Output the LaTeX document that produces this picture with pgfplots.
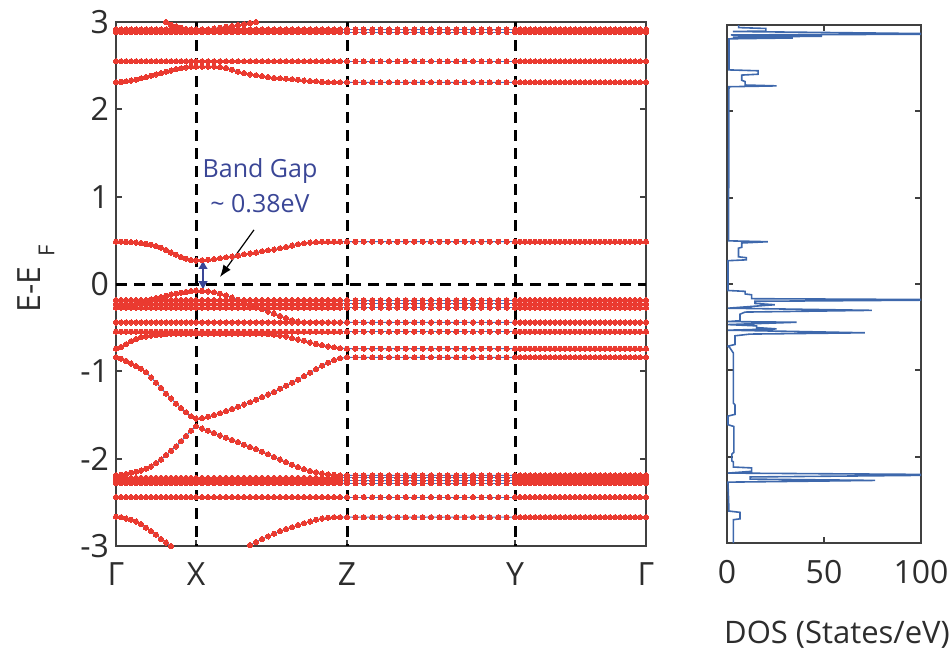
\documentclass[border=0pt]{standalone}
\usepackage{fontspec}
\setmainfont{Open Sans}
\usepackage{pgfplots}
\pgfplotsset{compat=1.18}
\usepackage{pgfplotstable}
\usetikzlibrary{arrows.meta}
\definecolor{bandred}{RGB}{234,58,48}
\definecolor{bandblue}{RGB}{70,110,190}
\definecolor{dosblue}{RGB}{62,104,172}
\definecolor{framegray}{RGB}{64,64,64}
\definecolor{txtgray}{RGB}{45,45,45}
\definecolor{gapblue}{RGB}{58,70,150}

% k (path coordinate) and band energies E-E_F (eV)
\pgfplotstableread{
k t1 t2 t3 t4 c4 c5 v1 v2 v3 vT v4 v5 v6 v7 w1 w2 w3 w4 w5 w6
0 2.915 2.885 2.55 nan 2.31 0.485 -0.185 -0.225 -0.27 -0.27 -0.44 -0.545 -0.74 -0.84 -2.19 -2.22 -2.25 -2.28 -2.44 -2.665
5 2.915 2.885 2.55 nan 2.315 0.485 -0.185 -0.225 -0.27 -0.265 -0.44 -0.545 -0.72 -0.855 -2.185 -2.22 -2.25 -2.28 -2.44 -2.67
10 2.915 2.885 2.55 nan 2.32 0.483 -0.185 -0.225 -0.27 -0.255 -0.44 -0.545 -0.69 -0.88 -2.175 -2.22 -2.25 -2.28 -2.44 -2.685
15 2.915 2.885 2.55 nan 2.33 0.48 -0.185 -0.225 -0.27 -0.24 -0.44 -0.545 -0.655 -0.91 -2.16 -2.22 -2.25 -2.28 -2.44 -2.70
20 2.915 2.885 2.55 nan 2.34 0.475 -0.185 -0.225 -0.27 -0.225 -0.44 -0.545 -0.63 -0.94 -2.15 -2.22 -2.25 -2.28 -2.44 -2.72
25 2.915 2.885 2.55 nan 2.355 0.47 -0.185 -0.225 -0.27 -0.205 -0.44 -0.545 -0.61 -0.97 -2.135 -2.22 -2.25 -2.28 -2.44 -2.75
30 2.915 2.885 2.55 nan 2.37 0.46 -0.185 -0.225 -0.27 -0.19 -0.44 -0.545 -0.60 -1.01 -2.115 -2.22 -2.25 -2.28 -2.44 -2.79
35 2.915 2.885 2.55 nan 2.385 0.45 -0.185 -0.225 -0.27 -0.175 -0.44 -0.545 -0.59 -1.07 -2.09 -2.22 -2.25 -2.28 -2.44 -2.83
40 2.915 2.885 2.55 nan 2.40 0.435 -0.185 -0.225 -0.27 -0.16 -0.44 -0.545 -0.585 -1.13 -2.05 -2.22 -2.25 -2.28 -2.44 -2.87
45 2.915 2.885 2.55 nan 2.415 0.415 -0.185 -0.225 -0.27 -0.15 -0.44 -0.545 -0.58 -1.19 -2.01 -2.22 -2.25 -2.28 -2.44 -2.92
50 2.915 2.885 2.55 3.0 2.43 0.39 -0.185 -0.225 -0.27 -0.135 -0.44 -0.545 -0.575 -1.255 -1.96 -2.22 -2.25 -2.28 -2.44 -2.96
55 2.915 2.885 2.55 2.97 2.445 0.36 -0.185 -0.225 -0.27 -0.12 -0.44 -0.545 -0.57 -1.31 -1.91 -2.22 -2.25 -2.28 -2.44 -3.0
60 2.915 2.885 2.55 2.95 2.46 0.335 -0.185 -0.225 -0.27 -0.11 -0.44 -0.545 -0.57 -1.37 -1.86 -2.22 -2.25 -2.28 -2.44 nan
65 2.915 2.885 2.55 2.935 2.47 0.31 -0.185 -0.225 -0.27 -0.10 -0.44 -0.545 -0.57 -1.42 -1.80 -2.22 -2.25 -2.28 -2.44 nan
70 2.915 2.885 2.55 2.92 2.48 0.29 -0.185 -0.225 -0.27 -0.09 -0.44 -0.545 -0.57 -1.47 -1.74 -2.22 -2.25 -2.28 -2.44 nan
75 2.915 2.885 2.55 2.91 2.49 0.275 -0.185 -0.225 -0.27 -0.08 -0.44 -0.545 -0.57 -1.515 -1.68 -2.22 -2.25 -2.28 -2.44 nan
80 2.915 2.885 2.55 2.905 2.49 0.27 -0.185 -0.225 -0.27 -0.075 -0.44 -0.545 -0.57 -1.54 -1.63 -2.22 -2.25 -2.28 -2.44 nan
86 2.915 2.885 2.55 2.91 2.49 0.272 -0.185 -0.225 -0.27 -0.078 -0.44 -0.545 -0.57 -1.535 -1.655 -2.22 -2.25 -2.28 -2.44 nan
92 2.915 2.885 2.55 2.915 2.49 0.278 -0.185 -0.225 -0.27 -0.085 -0.44 -0.545 -0.57 -1.52 -1.68 -2.22 -2.25 -2.28 -2.44 nan
98 2.915 2.885 2.55 2.925 2.49 0.285 -0.185 -0.225 -0.27 -0.095 -0.44 -0.545 -0.57 -1.50 -1.705 -2.22 -2.25 -2.28 -2.44 nan
104 2.915 2.885 2.55 2.935 2.485 0.295 -0.185 -0.225 -0.27 -0.11 -0.44 -0.545 -0.57 -1.48 -1.735 -2.22 -2.25 -2.28 -2.44 nan
110 2.915 2.885 2.55 2.945 2.475 0.305 -0.185 -0.225 -0.27 -0.13 -0.44 -0.545 -0.57 -1.455 -1.76 -2.22 -2.25 -2.28 -2.44 nan
116 2.915 2.885 2.55 2.955 2.455 0.315 -0.185 -0.225 -0.27 -0.155 -0.44 -0.545 -0.57 -1.43 -1.785 -2.22 -2.25 -2.28 -2.44 nan
122 2.915 2.885 2.55 2.965 2.43 0.325 -0.185 -0.225 -0.27 -0.18 -0.44 -0.545 -0.57 -1.405 -1.81 -2.22 -2.25 -2.28 -2.44 nan
128 2.915 2.885 2.55 2.975 2.415 0.34 -0.185 -0.225 -0.27 -0.21 -0.44 -0.545 -0.57 -1.38 -1.84 -2.22 -2.25 -2.28 -2.44 nan
134 2.915 2.885 2.55 2.99 2.40 0.35 -0.185 -0.225 -0.27 -0.24 -0.44 -0.545 -0.57 -1.355 -1.865 -2.22 -2.25 -2.28 -2.44 -2.99
140 2.915 2.885 2.55 3.0 2.39 0.36 -0.185 -0.225 -0.27 -0.265 -0.44 -0.545 -0.57 -1.325 -1.89 -2.22 -2.25 -2.28 -2.44 -2.955
146 2.915 2.885 2.55 nan 2.38 0.375 -0.185 -0.225 -0.27 -0.29 -0.44 -0.545 -0.57 -1.295 -1.92 -2.22 -2.25 -2.28 -2.44 -2.92
152 2.915 2.885 2.55 nan 2.37 0.385 -0.185 -0.225 -0.27 -0.315 -0.44 -0.545 -0.575 -1.265 -1.95 -2.22 -2.25 -2.28 -2.44 -2.89
158 2.915 2.885 2.55 nan 2.36 0.395 -0.185 -0.225 -0.27 -0.34 -0.44 -0.545 -0.58 -1.235 -1.98 -2.22 -2.25 -2.28 -2.44 -2.86
164 2.915 2.885 2.55 nan 2.355 0.41 -0.185 -0.225 -0.27 -0.365 -0.44 -0.545 -0.59 -1.20 -2.01 -2.22 -2.25 -2.28 -2.44 -2.83
170 2.915 2.885 2.55 nan 2.35 0.425 -0.185 -0.225 -0.27 -0.39 -0.44 -0.545 -0.60 -1.165 -2.04 -2.22 -2.25 -2.28 -2.44 -2.805
176 2.915 2.885 2.55 nan 2.345 0.44 -0.185 -0.225 -0.27 -0.415 -0.44 -0.545 -0.62 -1.13 -2.07 -2.22 -2.25 -2.28 -2.44 -2.785
182 2.915 2.885 2.55 nan 2.34 0.455 -0.185 -0.225 -0.27 -0.43 -0.44 -0.545 -0.635 -1.095 -2.095 -2.22 -2.25 -2.28 -2.44 -2.76
188 2.915 2.885 2.55 nan 2.33 0.465 -0.185 -0.225 -0.27 -0.44 -0.44 -0.545 -0.65 -1.055 -2.12 -2.22 -2.25 -2.28 -2.44 -2.74
194 2.915 2.885 2.55 nan 2.325 0.475 -0.185 -0.225 -0.27 -0.44 -0.44 -0.545 -0.67 -1.015 -2.14 -2.22 -2.25 -2.28 -2.44 -2.72
200 2.915 2.885 2.55 nan 2.32 0.48 -0.185 -0.225 -0.27 -0.44 -0.44 -0.545 -0.685 -0.975 -2.155 -2.22 -2.25 -2.28 -2.44 -2.70
206 2.915 2.885 2.55 nan 2.315 0.485 -0.185 -0.225 -0.27 -0.44 -0.44 -0.545 -0.70 -0.935 -2.17 -2.22 -2.25 -2.28 -2.44 -2.685
212 2.915 2.885 2.55 nan 2.31 0.485 -0.185 -0.225 -0.27 -0.44 -0.44 -0.545 -0.715 -0.90 -2.18 -2.22 -2.25 -2.28 -2.44 -2.675
218 2.915 2.885 2.55 nan 2.31 0.485 -0.185 -0.225 -0.27 -0.44 -0.44 -0.545 -0.725 -0.87 -2.185 -2.22 -2.25 -2.28 -2.44 -2.67
224 2.915 2.885 2.55 nan 2.31 0.485 -0.185 -0.225 -0.27 -0.44 -0.44 -0.545 -0.735 -0.85 -2.19 -2.22 -2.25 -2.28 -2.44 -2.67
231 2.915 2.885 2.55 nan 2.31 0.485 -0.185 -0.225 -0.27 -0.44 -0.44 -0.545 -0.74 -0.84 -2.19 -2.22 -2.25 -2.28 -2.44 -2.67
239.4 2.915 2.885 2.55 nan 2.31 0.485 -0.185 -0.225 -0.27 -0.44 -0.44 -0.545 -0.74 -0.84 -2.19 -2.22 -2.25 -2.28 -2.44 -2.67
247.8 2.915 2.885 2.55 nan 2.31 0.485 -0.185 -0.225 -0.27 -0.44 -0.44 -0.545 -0.74 -0.84 -2.19 -2.22 -2.25 -2.28 -2.44 -2.67
256.2 2.915 2.885 2.55 nan 2.31 0.485 -0.185 -0.225 -0.27 -0.44 -0.44 -0.545 -0.74 -0.84 -2.19 -2.22 -2.25 -2.28 -2.44 -2.67
264.6 2.915 2.885 2.55 nan 2.31 0.485 -0.185 -0.225 -0.27 -0.44 -0.44 -0.545 -0.74 -0.84 -2.19 -2.22 -2.25 -2.28 -2.44 -2.67
273 2.915 2.885 2.55 nan 2.31 0.485 -0.185 -0.225 -0.27 -0.44 -0.44 -0.545 -0.74 -0.84 -2.19 -2.22 -2.25 -2.28 -2.44 -2.67
281.4 2.915 2.885 2.55 nan 2.31 0.485 -0.185 -0.225 -0.27 -0.44 -0.44 -0.545 -0.74 -0.84 -2.19 -2.22 -2.25 -2.28 -2.44 -2.67
289.8 2.915 2.885 2.55 nan 2.31 0.485 -0.185 -0.225 -0.27 -0.44 -0.44 -0.545 -0.74 -0.84 -2.19 -2.22 -2.25 -2.28 -2.44 -2.67
298.2 2.915 2.885 2.55 nan 2.31 0.485 -0.185 -0.225 -0.27 -0.44 -0.44 -0.545 -0.74 -0.84 -2.19 -2.22 -2.25 -2.28 -2.44 -2.67
306.6 2.915 2.885 2.55 nan 2.31 0.485 -0.185 -0.225 -0.27 -0.44 -0.44 -0.545 -0.74 -0.84 -2.19 -2.22 -2.25 -2.28 -2.44 -2.67
315 2.915 2.885 2.55 nan 2.31 0.485 -0.185 -0.225 -0.27 -0.44 -0.44 -0.545 -0.74 -0.84 -2.19 -2.22 -2.25 -2.28 -2.44 -2.67
323.4 2.915 2.885 2.55 nan 2.31 0.485 -0.185 -0.225 -0.27 -0.44 -0.44 -0.545 -0.74 -0.84 -2.19 -2.22 -2.25 -2.28 -2.44 -2.67
331.8 2.915 2.885 2.55 nan 2.31 0.485 -0.185 -0.225 -0.27 -0.44 -0.44 -0.545 -0.74 -0.84 -2.19 -2.22 -2.25 -2.28 -2.44 -2.67
340.2 2.915 2.885 2.55 nan 2.31 0.485 -0.185 -0.225 -0.27 -0.44 -0.44 -0.545 -0.74 -0.84 -2.19 -2.22 -2.25 -2.28 -2.44 -2.67
348.6 2.915 2.885 2.55 nan 2.31 0.485 -0.185 -0.225 -0.27 -0.44 -0.44 -0.545 -0.74 -0.84 -2.19 -2.22 -2.25 -2.28 -2.44 -2.67
357 2.915 2.885 2.55 nan 2.31 0.485 -0.185 -0.225 -0.27 -0.44 -0.44 -0.545 -0.74 -0.84 -2.19 -2.22 -2.25 -2.28 -2.44 -2.67
365.4 2.915 2.885 2.55 nan 2.31 0.485 -0.185 -0.225 -0.27 -0.44 -0.44 -0.545 -0.74 -0.84 -2.19 -2.22 -2.25 -2.28 -2.44 -2.67
373.8 2.915 2.885 2.55 nan 2.31 0.485 -0.185 -0.225 -0.27 -0.44 -0.44 -0.545 -0.74 -0.84 -2.19 -2.22 -2.25 -2.28 -2.44 -2.67
382.2 2.915 2.885 2.55 nan 2.31 0.485 -0.185 -0.225 -0.27 -0.44 -0.44 -0.545 -0.74 -0.84 -2.19 -2.22 -2.25 -2.28 -2.44 -2.67
390.6 2.915 2.885 2.55 nan 2.31 0.485 -0.185 -0.225 -0.27 -0.44 -0.44 -0.545 -0.74 -0.84 -2.19 -2.22 -2.25 -2.28 -2.44 -2.67
399 2.915 2.885 2.55 nan 2.31 0.485 -0.185 -0.225 -0.27 -0.44 -0.44 -0.545 -0.74 -0.84 -2.19 -2.22 -2.25 -2.28 -2.44 -2.67
404 2.915 2.885 2.55 nan 2.31 0.485 -0.185 -0.225 -0.27 -0.44 -0.44 -0.545 -0.74 -0.84 -2.19 -2.22 -2.25 -2.28 -2.44 -2.67
409 2.915 2.885 2.55 nan 2.31 0.485 -0.185 -0.225 -0.27 -0.44 -0.44 -0.545 -0.74 -0.84 -2.19 -2.22 -2.25 -2.28 -2.44 -2.67
414 2.915 2.885 2.55 nan 2.31 0.485 -0.185 -0.225 -0.27 -0.44 -0.44 -0.545 -0.74 -0.84 -2.19 -2.22 -2.25 -2.28 -2.44 -2.67
419 2.915 2.885 2.55 nan 2.31 0.485 -0.185 -0.225 -0.27 -0.44 -0.44 -0.545 -0.74 -0.84 -2.19 -2.22 -2.25 -2.28 -2.44 -2.67
424 2.915 2.885 2.55 nan 2.31 0.485 -0.185 -0.225 -0.27 -0.44 -0.44 -0.545 -0.74 -0.84 -2.19 -2.22 -2.25 -2.28 -2.44 -2.67
429 2.915 2.885 2.55 nan 2.31 0.485 -0.185 -0.225 -0.27 -0.44 -0.44 -0.545 -0.74 -0.84 -2.19 -2.22 -2.25 -2.28 -2.44 -2.67
434 2.915 2.885 2.55 nan 2.31 0.485 -0.185 -0.225 -0.27 -0.44 -0.44 -0.545 -0.74 -0.84 -2.19 -2.22 -2.25 -2.28 -2.44 -2.67
439 2.915 2.885 2.55 nan 2.31 0.485 -0.185 -0.225 -0.27 -0.44 -0.44 -0.545 -0.74 -0.84 -2.19 -2.22 -2.25 -2.28 -2.44 -2.67
444 2.915 2.885 2.55 nan 2.31 0.485 -0.185 -0.225 -0.27 -0.44 -0.44 -0.545 -0.74 -0.84 -2.19 -2.22 -2.25 -2.28 -2.44 -2.67
449 2.915 2.885 2.55 nan 2.31 0.485 -0.185 -0.225 -0.27 -0.44 -0.44 -0.545 -0.74 -0.84 -2.19 -2.22 -2.25 -2.28 -2.44 -2.67
454 2.915 2.885 2.55 nan 2.31 0.485 -0.185 -0.225 -0.27 -0.44 -0.44 -0.545 -0.74 -0.84 -2.19 -2.22 -2.25 -2.28 -2.44 -2.67
459 2.915 2.885 2.55 nan 2.31 0.485 -0.185 -0.225 -0.27 -0.44 -0.44 -0.545 -0.74 -0.84 -2.19 -2.22 -2.25 -2.28 -2.44 -2.67
464 2.915 2.885 2.55 nan 2.31 0.485 -0.185 -0.225 -0.27 -0.44 -0.44 -0.545 -0.74 -0.84 -2.19 -2.22 -2.25 -2.28 -2.44 -2.67
469 2.915 2.885 2.55 nan 2.31 0.485 -0.185 -0.225 -0.27 -0.44 -0.44 -0.545 -0.74 -0.84 -2.19 -2.22 -2.25 -2.28 -2.44 -2.67
474 2.915 2.885 2.55 nan 2.31 0.485 -0.185 -0.225 -0.27 -0.44 -0.44 -0.545 -0.74 -0.84 -2.19 -2.22 -2.25 -2.28 -2.44 -2.67
479 2.915 2.885 2.55 nan 2.31 0.485 -0.185 -0.225 -0.27 -0.44 -0.44 -0.545 -0.74 -0.84 -2.19 -2.22 -2.25 -2.28 -2.44 -2.67
484 2.915 2.885 2.55 nan 2.31 0.485 -0.185 -0.225 -0.27 -0.44 -0.44 -0.545 -0.74 -0.84 -2.19 -2.22 -2.25 -2.28 -2.44 -2.67
489 2.915 2.885 2.55 nan 2.31 0.485 -0.185 -0.225 -0.27 -0.44 -0.44 -0.545 -0.74 -0.84 -2.19 -2.22 -2.25 -2.28 -2.44 -2.67
494 2.915 2.885 2.55 nan 2.31 0.485 -0.185 -0.225 -0.27 -0.44 -0.44 -0.545 -0.74 -0.84 -2.19 -2.22 -2.25 -2.28 -2.44 -2.67
499 2.915 2.885 2.55 nan 2.31 0.485 -0.185 -0.225 -0.27 -0.44 -0.44 -0.545 -0.74 -0.84 -2.19 -2.22 -2.25 -2.28 -2.44 -2.67
504 2.915 2.885 2.55 nan 2.31 0.485 -0.185 -0.225 -0.27 -0.44 -0.44 -0.545 -0.74 -0.84 -2.19 -2.22 -2.25 -2.28 -2.44 -2.67
509 2.915 2.885 2.55 nan 2.31 0.485 -0.185 -0.225 -0.27 -0.44 -0.44 -0.545 -0.74 -0.84 -2.19 -2.22 -2.25 -2.28 -2.44 -2.67
514 2.915 2.885 2.55 nan 2.31 0.485 -0.185 -0.225 -0.27 -0.44 -0.44 -0.545 -0.74 -0.84 -2.19 -2.22 -2.25 -2.28 -2.44 -2.67
519 2.915 2.885 2.55 nan 2.31 0.485 -0.185 -0.225 -0.27 -0.44 -0.44 -0.545 -0.74 -0.84 -2.19 -2.22 -2.25 -2.28 -2.44 -2.67
524 2.915 2.885 2.55 nan 2.31 0.485 -0.185 -0.225 -0.27 -0.44 -0.44 -0.545 -0.74 -0.84 -2.19 -2.22 -2.25 -2.28 -2.44 -2.67
530 2.915 2.885 2.55 nan 2.31 0.485 -0.185 -0.225 -0.27 -0.44 -0.44 -0.545 -0.74 -0.84 -2.19 -2.22 -2.25 -2.28 -2.44 -2.67
}\bands

% density of states: DOS (states/eV) versus E-E_F (eV)
\pgfplotstableread{
dos E
6 3.00
6 2.97
20 2.96
20 2.93
3 2.925
125 2.895
2 2.885
49 2.87
3 2.86
34 2.85
1 2.84
1 2.48
16 2.47
16 2.43
7.6 2.42
7.6 2.36
9.3 2.345
9.3 2.305
25.6 2.295
1 2.285
0.8 0.50
21 0.49
7.6 0.475
7.6 0.425
5.9 0.415
5.9 0.315
10 0.305
10 0.28
0.5 0.27
0.5 -0.075
9.3 -0.085
9.3 -0.115
12.7 -0.125
12.7 -0.17
130 -0.183
14.4 -0.20
14.4 -0.225
24.7 -0.24
0.5 -0.28
74.6 -0.305
9.3 -0.325
6.7 -0.35
6.7 -0.425
0.5 -0.435
35.9 -0.443
0.5 -0.47
15.3 -0.485
15.3 -0.505
25.6 -0.52
0.5 -0.535
71.1 -0.565
11.9 -0.58
4.1 -0.60
4.1 -0.70
0.5 -0.72
1.5 -0.74
3.3 -0.80
3.3 -1.38
4.1 -1.40
4.1 -1.51
0.5 -1.53
0.5 -1.63
3.5 -1.65
3.5 -1.95
2.5 -1.97
2.5 -2.05
3.3 -2.06
3.3 -2.12
12.7 -2.13
12.7 -2.17
0.5 -2.19
130 -2.21
11.9 -2.235
11.9 -2.26
76.3 -2.275
0.5 -2.295
1 -2.63
6.7 -2.645
6.7 -2.72
3.3 -2.73
3.3 -3.00
}\dostable

\begin{document}
\begin{tikzpicture}
\useasboundingbox (0pt,0pt) rectangle (475.5pt,-326pt);
\begin{axis}[
  at={(58pt,-273pt)}, anchor=south west,
  width=265pt, height=262pt, scale only axis,
  xmin=0, xmax=530, ymin=-3, ymax=3,
  xtick={0,80,231,399,530}, xticklabels={Γ,X,Z,Y,Γ},
  ytick={-3,-2,-1,0,1,2,3}, yticklabels={-3,-2,-1,0,1,2,3},
  tick align=inside, major tick length=3pt,
  axis line style={framegray, line width=1.3pt},
  every tick/.style={framegray, line width=1.1pt},
  ticklabel style={font=\fontsize{16}{18}\selectfont, text=txtgray},
  xticklabel style={yshift=-5pt},
  unbounded coords=jump,
]
\pgfplotsinvokeforeach{t1,t2,t3,t4,c4,c5,v1,v2,v3,vT,v4,v5,v6,v7,w1,w2,w3,w4,w5,w6}{
  \addplot[bandblue, line width=0.5pt, mark=none] table[x=k, y=#1] {\bands};
}
\pgfplotsinvokeforeach{t1,t2,t3,t4,c4,c5,v1,v2,v3,vT,v4,v5,v6,v7,w1,w2,w3,w4,w5,w6}{
  \addplot[only marks, color=bandred, mark=*, mark size=1.3pt, mark options={solid, fill=bandred, draw=bandred, line width=0pt}] table[x=k, y=#1] {\bands};
}
\addplot[black, line width=1.5pt, dash pattern=on 5.5pt off 3.5pt] coordinates {(80,3) (80,-3)};
\addplot[black, line width=1.5pt, dash pattern=on 5.5pt off 3.5pt] coordinates {(231,3) (231,-3)};
\addplot[black, line width=1.5pt, dash pattern=on 5.5pt off 3.5pt] coordinates {(399,3) (399,-3)};
\addplot[black, line width=1.5pt, dash pattern=on 5.5pt off 3.5pt] coordinates {(0,0) (530,0)};
\draw[gapblue, line width=1.4pt, {Latex[length=4.5pt,width=5pt]}-{Latex[length=4.5pt,width=5pt]}] (axis cs:87,0.275) -- (axis cs:87,-0.07);
\draw[black, line width=0.6pt, -{Latex[length=6pt,width=4.5pt]}] (axis cs:138,0.62) -- (axis cs:104,0.08);
\node[gapblue, align=center, font=\fontsize{12.5}{17.5}\selectfont] at (axis cs:144,1.13) {Band Gap\\\textasciitilde\ 0.38eV};
\end{axis}

\node[rotate=90, text=txtgray, font=\fontsize{16}{18}\selectfont] at (18pt,-139.5pt) {E-E\hspace{5pt}\raisebox{-7pt}{\fontsize{11}{12}\selectfont F}};

\begin{axis}[
  at={(363.5pt,-271.5pt)}, anchor=south west,
  width=97pt, height=259pt, scale only axis,
  xmin=0, xmax=100, ymin=-3, ymax=3,
  xtick={0,50,100}, xticklabels={0,50,100},
  ytick={-3,-2,-1,0,1,2,3}, yticklabels={},
  tick align=inside, major tick length=3pt,
  axis line style={framegray, line width=1.3pt},
  every tick/.style={framegray, line width=1.1pt},
  ticklabel style={font=\fontsize{16}{18}\selectfont, text=txtgray},
  xticklabel style={yshift=-5pt},
]
\addplot[dosblue, line width=0.8pt, mark=none] table[x=dos, y=E] {\dostable};
\end{axis}
\node[anchor=base, text=txtgray, font=\fontsize{15.5}{18}\selectfont] at (418.5pt,-321.5pt) {DOS (States/eV)};
\end{tikzpicture}
\end{document}
